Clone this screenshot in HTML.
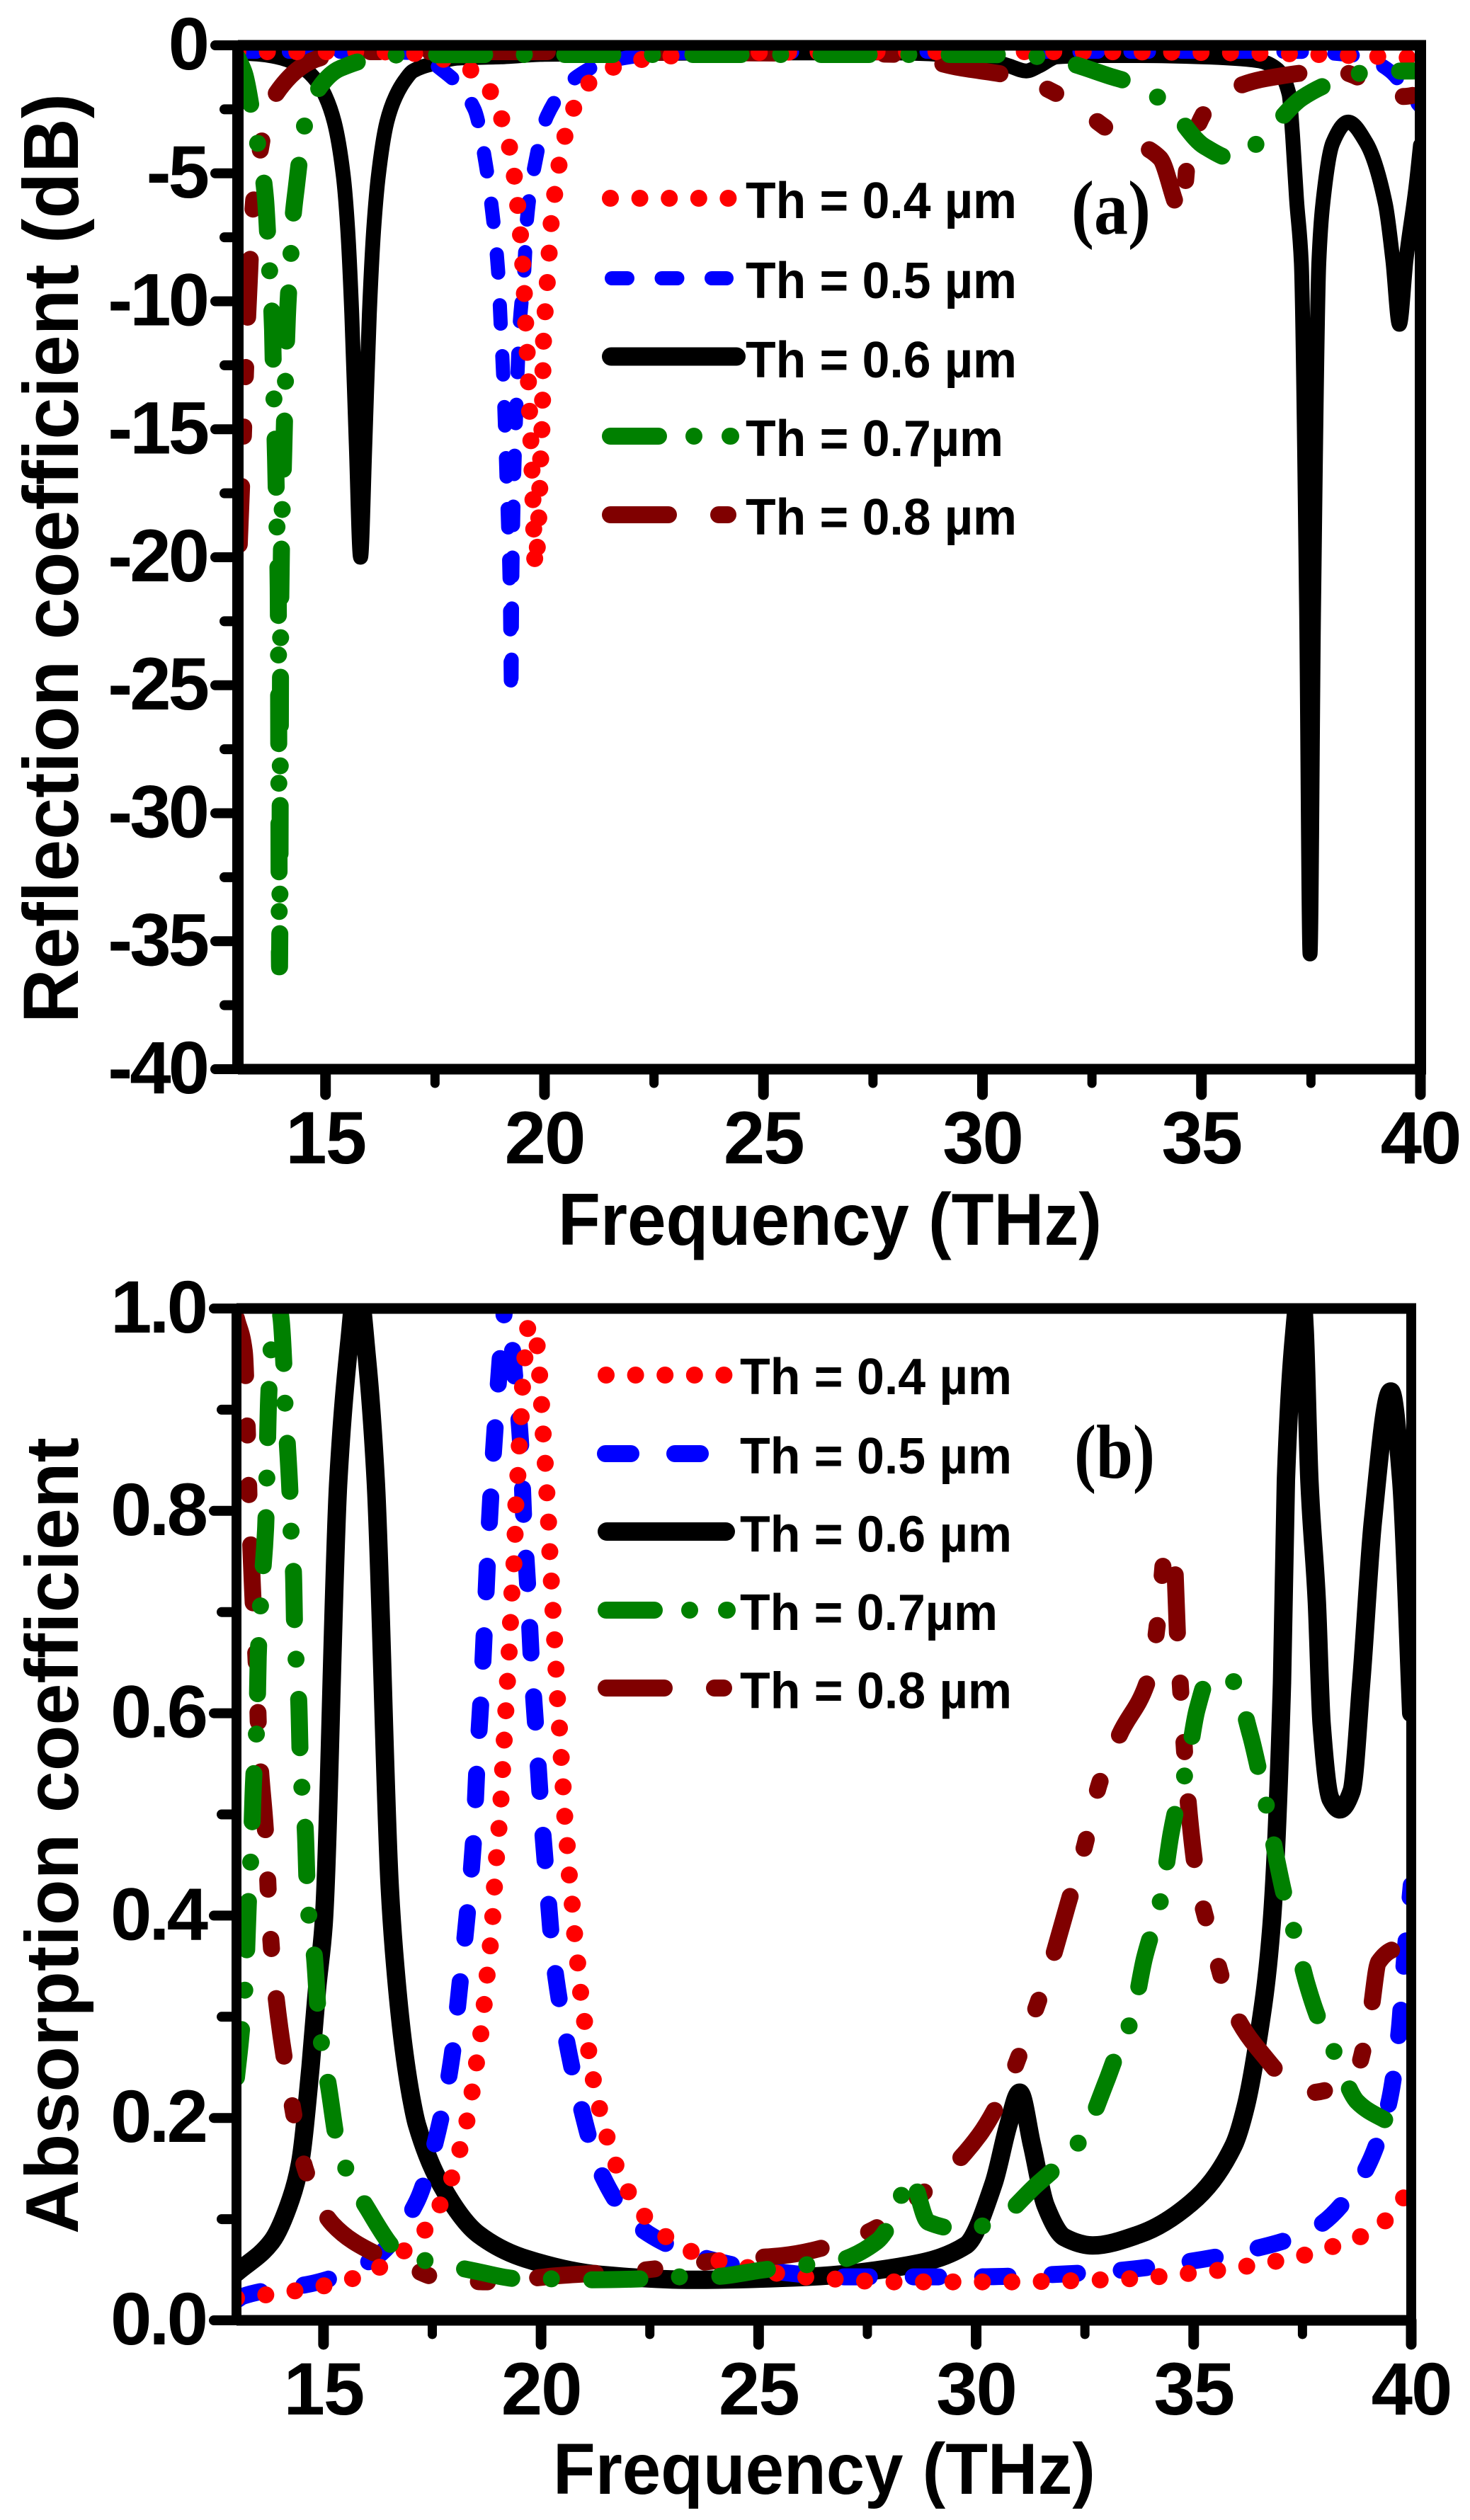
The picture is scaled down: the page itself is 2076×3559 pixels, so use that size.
<!DOCTYPE html>
<html lang="en">
<head>
<meta charset="utf-8">
<title>Reflection and absorption coefficient vs frequency</title>
<style>
html,body{margin:0;padding:0;background:#fff;}
svg{display:block;}
text{font-family:"Liberation Sans",Arial,sans-serif;font-weight:bold;fill:#000;}
.serif{font-family:"Liberation Serif",serif;}
</style>
</head>
<body>
<svg id="figure" xmlns="http://www.w3.org/2000/svg" width="2076" height="3559" viewBox="0 0 2076 3559">
<rect width="2076" height="3559" fill="#fff"/>
<defs>
<clipPath id="clipA"><rect x="344" y="71" width="1654" height="1432"/></clipPath>
<clipPath id="clipB"><rect x="340" y="1855" width="1647" height="1415"/></clipPath>
</defs>
<g id="panelA">
<g id="marksA" clip-path="url(#clipA)"></g>
<g id="axesA"></g>
<text transform="translate(110,1445) rotate(-90)" font-size="110" textLength="1313" lengthAdjust="spacingAndGlyphs">Reflection coefficient (dB)</text>
<text x="788" y="1758" font-size="104" textLength="768" lengthAdjust="spacingAndGlyphs">Frequency (THz)</text>
<text class="serif" x="1513" y="330" font-size="108" textLength="112" lengthAdjust="spacingAndGlyphs">(a)</text>
<g>
<line x1="862" y1="280" x2="1045" y2="280" stroke="#ff0000" stroke-width="24" stroke-linecap="round" stroke-dasharray="0 41.6"/>
<line x1="864" y1="393" x2="1026" y2="393" stroke="#0000ff" stroke-width="20" stroke-linecap="round" stroke-dasharray="22 48.5"/>
<line x1="863" y1="503.5" x2="1040" y2="503.5" stroke="#000" stroke-width="26" stroke-linecap="round"/>
<line x1="862" y1="616" x2="1032" y2="616" stroke="#008000" stroke-width="24" stroke-linecap="round" stroke-dasharray="68 50 0 51"/>
<line x1="862" y1="727" x2="1028" y2="727" stroke="#800000" stroke-width="24" stroke-linecap="round" stroke-dasharray="82 71 13 71"/>
<text x="1053" y="308" font-size="72" textLength="383" lengthAdjust="spacingAndGlyphs">Th = 0.4 µm</text>
<text x="1053" y="421" font-size="72" textLength="383" lengthAdjust="spacingAndGlyphs">Th = 0.5 µm</text>
<text x="1053" y="533" font-size="72" textLength="383" lengthAdjust="spacingAndGlyphs">Th = 0.6 µm</text>
<text x="1053" y="644" font-size="72" textLength="364" lengthAdjust="spacingAndGlyphs">Th = 0.7µm</text>
<text x="1053" y="755" font-size="72" textLength="383" lengthAdjust="spacingAndGlyphs">Th = 0.8 µm</text>
</g>
</g>
<g id="panelB">
<g id="marksB" clip-path="url(#clipB)"></g>
<g id="axesB"></g>
<text transform="translate(110,3155) rotate(-90)" font-size="106" textLength="1125" lengthAdjust="spacingAndGlyphs">Absorption coefficient</text>
<text x="781" y="3522" font-size="102" textLength="766" lengthAdjust="spacingAndGlyphs">Frequency (THz)</text>
<text class="serif" x="1517" y="2087" font-size="108" textLength="114" lengthAdjust="spacingAndGlyphs">(b)</text>
<g>
<line x1="856" y1="1942" x2="1040" y2="1942" stroke="#ff0000" stroke-width="24" stroke-linecap="round" stroke-dasharray="0 41.6"/>
<line x1="855" y1="2053" x2="990" y2="2053" stroke="#0000ff" stroke-width="24" stroke-linecap="round" stroke-dasharray="36 62"/>
<line x1="857" y1="2163" x2="1025" y2="2163" stroke="#000" stroke-width="26" stroke-linecap="round"/>
<line x1="856" y1="2274" x2="1027" y2="2274" stroke="#008000" stroke-width="24" stroke-linecap="round" stroke-dasharray="68 50 0 52"/>
<line x1="856" y1="2384" x2="1024" y2="2384" stroke="#800000" stroke-width="24" stroke-linecap="round" stroke-dasharray="82 71 13 71"/>
<text x="1045" y="1969" font-size="72" textLength="384" lengthAdjust="spacingAndGlyphs">Th = 0.4 µm</text>
<text x="1045" y="2081" font-size="72" textLength="384" lengthAdjust="spacingAndGlyphs">Th = 0.5 µm</text>
<text x="1045" y="2191.5" font-size="72" textLength="384" lengthAdjust="spacingAndGlyphs">Th = 0.6 µm</text>
<text x="1045" y="2302" font-size="72" textLength="364" lengthAdjust="spacingAndGlyphs">Th = 0.7µm</text>
<text x="1045" y="2412.5" font-size="72" textLength="384" lengthAdjust="spacingAndGlyphs">Th = 0.8 µm</text>
</g>
</g>
</svg>
<script>
/* ===== tick labels ===== */
const xTickValues = [15, 20, 25, 30, 35, 40];
const xMinorValues = [17.5, 22.5, 27.5, 32.5, 37.5];
const yTickValuesA = [0, -5, -10, -15, -20, -25, -30, -35, -40];
const yMinorValuesA = [-2.5, -7.5, -12.5, -17.5, -22.5, -27.5, -32.5, -37.5];
const yTickValuesB = [0, 0.2, 0.4, 0.6, 0.8, 1];
const yMinorValuesB = [0.1, 0.3, 0.5, 0.7, 0.9];

/* ===== panel (a): reflection coefficient, dB ===== */
const freqA06 = [13,13.5,14,14.5,14.8,15,15.2,15.4,15.5,15.6,15.7,15.8,15.9,16,16.1,16.2,16.4,16.6,16.8,17,17.5,18,19,20,24,28,30,30.6,31,31.3,31.7,32.5,33.6,35,36.3,36.7,37,37.08,37.17,37.28,37.4,37.48,37.56,37.68,37.77,38,38.35,38.76,39.2,39.37,39.52,39.67,39.9,40];
const dbA06 = [-0.3,-0.35,-0.5,-0.9,-1.4,-2,-3,-5,-7,-10.5,-15.5,-20,-15.5,-10.5,-7.2,-5.2,-3,-2,-1.4,-1,-0.7,-0.5,-0.45,-0.35,-0.3,-0.3,-0.5,-0.8,-1,-0.8,-0.45,-0.4,-0.4,-0.45,-0.6,-0.9,-1.9,-3.5,-6,-8.5,-22,-35.5,-22,-8.5,-6.2,-3.8,-3,-3.8,-6.2,-8.4,-10.9,-8.4,-5.5,-3.9];

const freqA05 = [13,15,17,17.65,18.4,18.66,18.82,18.94,19,19.06,19.1,19.14,19.18,19.21,19.24,19.26,19.3,19.34,19.38,19.43,19.53,19.6,19.77,20.06,20.76,21.5,23,30,37,38.5,38.9,39.3,39.75,40];
const dbA05 = [-0.25,-0.25,-0.3,-0.95,-2.5,-4.65,-6.7,-8.8,-10.9,-13,-15,-17.2,-19.3,-21.4,-25.4,-21.4,-17.2,-15,-13,-11,-9,-6.8,-4.75,-2.75,-1.2,-0.6,-0.3,-0.25,-0.25,-0.4,-0.6,-1,-1.9,-2.4];

const freqA08 = [13.03,13.1,13.2,13.27,13.32,13.49,13.79,14.97,16,20,25,28,29.41,30.8,31.85,33.03,34.05,34.47,34.55,34.7,35.33,36.46,38.06,39.07,39.6,40];
const dbA08 = [-19.5,-16.5,-11.5,-8.8,-6.9,-4.3,-2.1,-0.45,-0.25,-0.25,-0.3,-0.35,-0.85,-1.25,-2.04,-3.47,-4.4,-6.4,-6.6,-4.3,-2.1,-1.3,-1,-1.65,-2,-1.9];

const freqA04 = [13,14,15,16,16.9,17.7,18.3,18.8,19.06,19.24,19.34,19.42,19.48,19.53,19.56,19.6,19.63,19.66,19.69,19.72,19.74,19.76,19.79,19.84,19.88,19.9,19.92,19.95,19.96,19.97,20,20.05,20.1,20.15,20.23,20.34,20.49,20.71,21.12,21.75,22.43,24,28,32,36,39.3,40];
const dbA04 = [-0.25,-0.25,-0.25,-0.25,-0.3,-0.55,-0.95,-1.9,-3.07,-4.3,-5.5,-6.8,-8,-9.3,-10.5,-11.8,-13,-14.3,-15.5,-16.8,-18,-19.2,-20.4,-19.5,-18,-16.8,-15.8,-14.5,-13.3,-12,-10.8,-9.6,-8.3,-7,-5.85,-4.6,-3.4,-2.3,-1.3,-0.75,-0.5,-0.3,-0.25,-0.25,-0.3,-0.45,-0.5];

const freqA07 = [13,13.15,13.39,13.54,13.63,13.71,13.76,13.79,13.82,13.84,13.86,13.89,13.92,13.95,13.98,14.05,14.13,14.21,14.25,14.33,14.52,14.73,15.34,16.62,20,25,30,31,31.76,32.9,33.6,34.2,35.07,35.77,36.35,37.3,38.06,38.8,39.9,40];
const dbA07 = [-0.5,-1.1,-3.3,-4.7,-6,-8.4,-9.8,-11.1,-13.6,-14.9,-16.2,-18.6,-21.2,-36,-21.5,-15.7,-10.6,-8.2,-6.9,-5.6,-3.15,-2,-0.9,-0.38,-0.36,-0.36,-0.36,-0.4,-0.6,-1.2,-1.6,-2.3,-3.95,-4.45,-3.7,-2.05,-1.4,-1.05,-1,-1];

/* ===== panel (b): absorption coefficient ===== */
const freqB06 = [13,13.81,14.25,14.46,14.7,14.85,15,15.34,15.6,15.77,16,16.2,16.52,16.62,16.84,17.05,17.15,17.69,18.56,19.64,21.36,23.5,26.1,28.25,29.76,30.4,30.74,31,31.28,31.6,32.03,32.68,33.75,34.94,35.92,36.2,36.45,36.78,37.03,37.12,37.3,37.47,37.55,37.66,37.83,37.94,38.15,38.36,38.63,38.85,39.12,39.53,39.77,40];
const absB06 = [0.047,0.078,0.12,0.155,0.25,0.327,0.39,0.83,0.97,1.03,0.95,0.83,0.43,0.365,0.27,0.212,0.193,0.135,0.085,0.061,0.045,0.04,0.043,0.053,0.074,0.135,0.193,0.225,0.174,0.113,0.082,0.074,0.085,0.116,0.173,0.212,0.27,0.385,0.63,0.83,0.97,1.03,0.98,0.83,0.71,0.59,0.515,0.505,0.523,0.63,0.79,0.918,0.83,0.6];

const freqB05 = [13,13.16,14.89,16.19,17.15,17.63,17.95,18.13,18.3,18.45,18.53,18.63,18.71,18.79,18.88,18.99,19.12,19.2,19.28,19.38,19.53,19.6,19.7,19.78,19.89,20,20.14,20.28,20.54,20.89,21.36,22.22,23.73,25.24,26.97,28.47,29.98,31.6,33.2,34.73,36.33,37.74,38.82,39.47,39.72,39.84,40];
const absB05 = [0.02,0.024,0.038,0.062,0.118,0.187,0.26,0.33,0.4,0.476,0.55,0.622,0.694,0.77,0.84,0.91,0.98,1.01,0.99,0.94,0.867,0.794,0.72,0.65,0.578,0.505,0.43,0.36,0.287,0.216,0.147,0.093,0.062,0.049,0.043,0.043,0.043,0.045,0.049,0.057,0.07,0.09,0.139,0.212,0.285,0.354,0.43];

const freqB08 = [13,13.18,13.25,13.29,13.37,13.47,13.52,13.67,13.77,13.9,14.2,14.6,15.21,16.19,16.94,17.7,18.88,20.35,22.2,24.26,25.56,27.4,29,30.07,30.74,31.28,31.7,32.1,32.5,32.83,33.3,34,34.2,34.36,34.55,34.63,34.71,34.9,35.09,35.37,35.85,36.45,37.64,38.7,39.05,39.25,39.67,40];
const absB08 = [0.99,0.957,0.877,0.81,0.722,0.632,0.567,0.48,0.388,0.323,0.233,0.147,0.095,0.066,0.053,0.041,0.038,0.044,0.049,0.06,0.064,0.085,0.134,0.183,0.235,0.297,0.35,0.41,0.47,0.53,0.579,0.64,0.7,0.764,0.752,0.676,0.616,0.5,0.433,0.383,0.312,0.27,0.225,0.243,0.3,0.354,0.367,0.36];

const freqB04 = [13,13.64,14.32,15,15.65,16.27,17.31,17.7,17.98,18.17,18.34,18.45,18.56,18.66,18.73,18.81,18.88,18.92,18.97,19.03,19.08,19.12,19.16,19.2,19.24,19.28,19.31,19.35,19.4,19.41,19.46,19.49,19.54,19.57,19.63,19.72,19.89,19.96,20.01,20.05,20.1,20.14,20.18,20.21,20.25,20.29,20.33,20.36,20.41,20.45,20.5,20.54,20.6,20.65,20.72,20.78,20.86,20.93,21.04,21.14,21.27,21.45,21.64,21.9,22.25,22.74,23.35,24,24.66,25.35,26.02,26.69,27.35,28.04,28.7,30.74,32.09,33.47,34.14,34.8,35.48,36.14,36.84,37.51,38.13,38.8,39.34,39.81,40];
const absB04 = [0.022,0.025,0.029,0.034,0.041,0.052,0.088,0.116,0.145,0.175,0.206,0.236,0.267,0.298,0.329,0.361,0.392,0.423,0.454,0.485,0.516,0.547,0.579,0.61,0.641,0.672,0.703,0.734,0.766,0.796,0.828,0.858,0.89,0.92,0.952,0.985,0.969,0.938,0.907,0.875,0.844,0.813,0.782,0.751,0.72,0.689,0.657,0.626,0.595,0.565,0.533,0.501,0.47,0.44,0.409,0.378,0.346,0.316,0.284,0.253,0.223,0.192,0.163,0.136,0.11,0.087,0.07,0.06,0.053,0.047,0.043,0.041,0.039,0.038,0.038,0.038,0.039,0.041,0.043,0.046,0.049,0.053,0.058,0.064,0.072,0.082,0.096,0.12,0.135];

const freqB07 = [13,13.1,13.21,13.27,13.34,13.39,13.47,13.5,13.57,13.67,13.74,13.83,14,14.1,14.12,14.17,14.24,14.26,14.31,14.34,14.38,14.43,14.47,14.52,14.58,14.63,14.68,14.79,14.89,14.98,15.11,15.33,15.59,15.93,16.84,17.59,18.45,19.53,20.34,21.14,22.33,23.09,23.84,25.13,25.84,26.64,27.72,28.15,28.47,28.9,29.7,30.4,31.39,31.93,32.47,33,33.26,33.59,33.87,34.08,34.27,34.48,34.64,34.84,35.08,35.36,35.89,36.3,36.5,36.68,36.91,37.09,37.3,37.6,37.87,38.18,38.76,39.52];
const absB07 = [0.24,0.28,0.34,0.41,0.467,0.531,0.593,0.656,0.72,0.784,0.913,0.975,0.995,0.933,0.898,0.865,0.805,0.772,0.738,0.678,0.645,0.612,0.549,0.517,0.485,0.423,0.392,0.36,0.297,0.266,0.233,0.173,0.143,0.116,0.064,0.057,0.049,0.041,0.041,0.04,0.041,0.043,0.043,0.05,0.054,0.057,0.078,0.106,0.143,0.097,0.09,0.097,0.134,0.155,0.183,0.237,0.267,0.3,0.358,0.39,0.421,0.481,0.514,0.547,0.604,0.636,0.632,0.579,0.543,0.507,0.455,0.419,0.385,0.333,0.298,0.27,0.216,0.195];

/* ===== axis functions ===== */
const NS = 'http://www.w3.org/2000/svg';
function xA(f){ return 336 + (f - 13) * (2006 - 336) / 27; }
function yA(v){ return 64 + (0 - v) * (1510 - 64) / 40; }
function xB(f){ return 334 + (f - 13) * (1993 - 334) / 27; }
function yB(v){ return 3277 - v * (3277 - 1848); }

/* monotone cubic through the read points so peaks stay rounded without overshoot */
function seriesPath(freqs, vals, xf, yf){
  const xs = freqs.map(xf), ys = vals.map(yf), n = xs.length;
  const sl = [], t = [];
  for (let i = 0; i < n - 1; i++) sl.push((ys[i + 1] - ys[i]) / (xs[i + 1] - xs[i]));
  for (let i = 0; i < n; i++){
    if (i === 0) t.push(sl[0]);
    else if (i === n - 1) t.push(sl[n - 2]);
    else if (sl[i - 1] * sl[i] <= 0) t.push(0);
    else {
      const h0 = xs[i] - xs[i - 1], h1 = xs[i + 1] - xs[i];
      const w1 = 2 * h1 + h0, w2 = h1 + 2 * h0;
      t.push((w1 + w2) / (w1 / sl[i - 1] + w2 / sl[i]));
    }
  }
  let d = 'M' + xs[0].toFixed(1) + ' ' + ys[0].toFixed(1);
  for (let i = 0; i < n - 1; i++){
    const h = (xs[i + 1] - xs[i]) / 3;
    d += ' C' + (xs[i] + h).toFixed(1) + ' ' + (ys[i] + t[i] * h).toFixed(1) + ' ' +
         (xs[i + 1] - h).toFixed(1) + ' ' + (ys[i + 1] - t[i + 1] * h).toFixed(1) + ' ' +
         xs[i + 1].toFixed(1) + ' ' + ys[i + 1].toFixed(1);
  }
  return d;
}
function drawSeries(parent, name, freqs, vals, xf, yf, color, width, dash){
  const p = document.createElementNS(NS, 'path');
  
  
  p.setAttribute('d', seriesPath(freqs, vals, xf, yf));
  p.setAttribute('fill', 'none');
  p.setAttribute('stroke', color);
  p.setAttribute('stroke-width', width);
  p.setAttribute('stroke-linecap', 'round');
  p.setAttribute('stroke-linejoin', 'round');
  if (dash) p.setAttribute('stroke-dasharray', dash);
  parent.appendChild(p);
}
function addLine(parent, x1, y1, x2, y2, w, cap){
  const l = document.createElementNS(NS, 'line');
  
  
  l.setAttribute('x1', x1); l.setAttribute('y1', y1);
  l.setAttribute('x2', x2); l.setAttribute('y2', y2);
  l.setAttribute('stroke', '#000');
  l.setAttribute('stroke-width', w);
  l.setAttribute('stroke-linecap', cap);
  parent.appendChild(l);
  return l;
}
function addLabel(parent, str, x, y, anchor, spacing){
  const t = document.createElementNS(NS, 'text');
  
  
  t.setAttribute('x', x); t.setAttribute('y', y);
  t.setAttribute('font-size', '105');
  t.setAttribute('text-anchor', anchor);
  t.setAttribute('letter-spacing', spacing);
  t.textContent = str;
  parent.appendChild(t);
}
function drawAxes(g, xf, yf, o){
  const L = xf(13), R = xf(40), T = yf(o.yMax), B = yf(o.yMin);
  o.xMinor.forEach(function(v){ addLine(g, xf(v), B, xf(v), B + o.xMinorLen, 13, 'round'); });
  xTickValues.forEach(function(v){
    addLine(g, xf(v), B, xf(v), B + o.xMajorLen, 15, 'round');
    addLabel(g, String(v), xf(v), o.xLabelY, 'middle', '-2');
  });
  o.yMinor.forEach(function(v){ addLine(g, L, yf(v), L - o.yMinorLen, yf(v), 14, 'round'); });
  o.yTicks.forEach(function(v){
    addLine(g, L, yf(v), L - o.yMajorLen, yf(v), 14, 'round');
    addLabel(g, o.fmt(v), o.yLabelX, yf(v) + 34, 'end', o.yLabelSpacing);
  });
  addLine(g, L, T - 7, L, B + 7, o.spineW, 'butt');
  addLine(g, R, T - 7, R, B + 7, o.spineW, 'butt');
  addLine(g, L, T, R + o.spineW / 2, T, 15, 'butt');
  addLine(g, L, B, R + o.spineW / 2, B, 15, 'butt');
}

const dashRed = '0 41.6';
const dashBlueA = '26 46';
const dashBlueB = '36 62';
const dashGreen = '68 56 0 57';
const dashMaroon = '82 71 13 71 13 71';

const mA = document.getElementById('marksA');
drawSeries(mA, 'series-th-06-reflection', freqA06, dbA06, xA, yA, '#000000', 21, null);
drawSeries(mA, 'series-th-05-reflection', freqA05, dbA05, xA, yA, '#0000ff', 20, dashBlueA);
drawSeries(mA, 'series-th-08-reflection', freqA08, dbA08, xA, yA, '#800000', 24, dashMaroon);
drawSeries(mA, 'series-th-04-reflection', freqA04, dbA04, xA, yA, '#ff0000', 24, dashRed);
drawSeries(mA, 'series-th-07-reflection', freqA07, dbA07, xA, yA, '#008000', 24, dashGreen);

const mB = document.getElementById('marksB');
drawSeries(mB, 'series-th-06-absorption', freqB06, absB06, xB, yB, '#000000', 26, null);
drawSeries(mB, 'series-th-05-absorption', freqB05, absB05, xB, yB, '#0000ff', 24, dashBlueB);
drawSeries(mB, 'series-th-08-absorption', freqB08, absB08, xB, yB, '#800000', 24, dashMaroon);
drawSeries(mB, 'series-th-04-absorption', freqB04, absB04, xB, yB, '#ff0000', 24, dashRed);
drawSeries(mB, 'series-th-07-absorption', freqB07, absB07, xB, yB, '#008000', 24, dashGreen);

drawAxes(document.getElementById('axesA'), xA, yA, {
  yMax: 0, yMin: -40, xMinor: xMinorValues, yMinor: yMinorValuesA, yTicks: yTickValuesA,
  xMajorLen: 36, xMinorLen: 20, yMajorLen: 32, yMinorLen: 19, spineW: 16,
  xLabelY: 1643, yLabelX: 292, yLabelSpacing: '-4', fmt: function(v){ return String(v); }
});
drawAxes(document.getElementById('axesB'), xB, yB, {
  yMax: 1, yMin: 0, xMinor: xMinorValues, yMinor: yMinorValuesB, yTicks: yTickValuesB,
  xMajorLen: 34, xMinorLen: 20, yMajorLen: 32, yMinorLen: 21, spineW: 14,
  xLabelY: 3410, yLabelX: 290, yLabelSpacing: '-4', fmt: function(v){ return v.toFixed(1); }
});
</script>
</body>
</html>
